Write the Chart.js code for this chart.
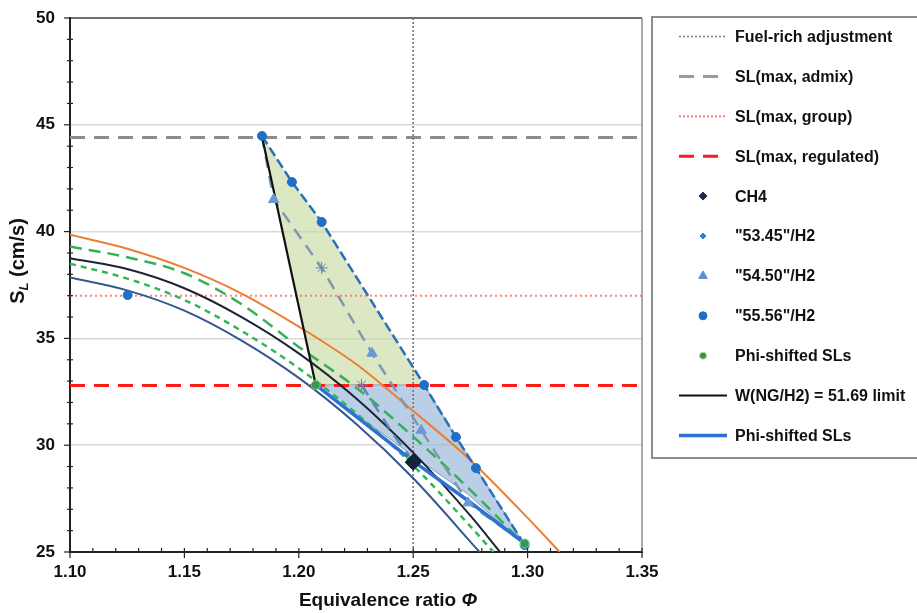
<!DOCTYPE html>
<html>
<head>
<meta charset="utf-8">
<script src="https://cdn.jsdelivr.net/npm/chart.js@4.4.0/dist/chart.umd.min.js"></script>
<style>
  html, body { margin: 0; padding: 0; background: #fff; }
</style>
</head>
<body>
<canvas id="myChart" width="917" height="613"></canvas>
<script>
// values: [phi, SL]
const orangeSL = [[1.10, 39.85], [1.125, 39.2], [1.15, 38.3], [1.175, 37.1], [1.20, 35.55], [1.225, 33.8], [1.25, 31.6], [1.275, 29.3], [1.30, 26.6], [1.314, 25.0]];
const greenLongSL = [[1.10, 39.3], [1.125, 38.8], [1.15, 38.05], [1.175, 36.6], [1.20, 34.6], [1.225, 32.7], [1.25, 30.4], [1.275, 27.9], [1.30, 25.2]];
const darkSL = [[1.10, 38.75], [1.125, 38.25], [1.15, 37.35], [1.175, 36.0], [1.20, 34.3], [1.225, 32.2], [1.25, 29.65], [1.275, 26.7], [1.288, 25.0]];
const greenShortSL = [[1.10, 38.5], [1.125, 37.8], [1.15, 36.8], [1.175, 35.35], [1.20, 33.6], [1.225, 31.5], [1.25, 29.05], [1.275, 26.2], [1.285, 25.0]];
const navySL = [[1.10, 37.85], [1.125, 37.25], [1.15, 36.3], [1.175, 34.9], [1.20, 33.15], [1.225, 31.0], [1.25, 28.45], [1.279, 25.0]];

const phiShiftedLine = [[1.2074, 32.82], [1.25, 29.25], [1.274, 27.4], [1.2987, 25.4]];
const wLimitLine = [[1.1839, 44.45], [1.2074, 32.82]];
const h2_5450Line = [[1.1839, 44.45], [1.189, 41.5], [1.21, 38.3], [1.232, 34.3], [1.2535, 30.7], [1.274, 27.3], [1.2987, 25.4]];
const h2_5345Line = [[1.2274, 32.82], [1.242, 30.4], [1.25, 29.25]];
const h2_5556Line = [[1.1839, 44.48], [1.197, 42.32], [1.21, 40.45], [1.2548, 32.82], [1.2687, 30.38], [1.2774, 28.93], [1.2987, 25.33]];

const greenArea = [[1.1839, 44.45], [1.2074, 32.82], [1.2548, 32.82], [1.21, 40.45], [1.197, 42.32], [1.1839, 44.45]];
const blueArea = [[1.2074, 32.82], [1.2548, 32.82], [1.2687, 30.38], [1.2774, 28.93], [1.2987, 25.33], [1.274, 27.7], [1.25, 29.5], [1.2074, 32.82]];

const ch4Pts = [[1.25, 29.2]];
const h2_5345Pts = [[1.21, 38.3], [1.2274, 32.82]];
const h2_5450Pts = [[1.189, 41.5], [1.232, 34.3], [1.2535, 30.7], [1.274, 27.3]];
const h2_5556Pts = [[1.1839, 44.48], [1.197, 42.32], [1.21, 40.45], [1.2548, 32.82], [1.2687, 30.38], [1.2774, 28.93], [1.2987, 25.33], [1.1252, 37.03]];
const phiShiftedPts = [[1.2074, 32.82], [1.249, 29.3], [1.2987, 25.4]];

const fuelRichPhi = 1.25;
const slAdmix = 44.4;
const slGroup = 37.0;
const slRegulated = 32.8;

const xRange = [1.10, 1.35];
const yRange = [25, 50];
const xTicks = [1.10, 1.15, 1.20, 1.25, 1.30, 1.35];

const FONT = "'Liberation Sans', Arial, sans-serif";
const pts = (arr) => arr.map((p) => ({ x: p[0], y: p[1] }));

const legendItems = [
  { label: 'Fuel-rich adjustment', line: '#808080', width: 1.5, dash: [2, 2] },
  { label: 'SL(max, admix)', line: '#9a9a9a', width: 3, dash: [15, 9] },
  { label: 'SL(max, group)', line: '#ff7c80', width: 2, dash: [2, 2] },
  { label: 'SL(max, regulated)', line: '#ff1a1a', width: 3, dash: [15, 9] },
  { label: 'CH4', point: 'rectRot', color: '#1c2c4a', r: 4 },
  { label: '"53.45"/H2', point: 'rectRot', color: '#2f80d0', r: 3 },
  { label: '"54.50"/H2', point: 'triangle', color: '#5b8fd6', r: 5 },
  { label: '"55.56"/H2', point: 'circle', color: '#1f6fc5', r: 4 },
  { label: 'Phi-shifted SLs', point: 'circle', color: '#2f8f5a', border: '#b9dc8c', r: 3.5 },
  { label: 'W(NG/H2) = 51.69 limit', line: '#111111', width: 2, dash: [] },
  { label: 'Phi-shifted SLs', line: '#2a72d4', width: 3.5, dash: [] },
];

const curve = (data, color, width, dash, order) => ({
  data: pts(data), showLine: true, borderColor: color, borderWidth: width, borderDash: dash,
  pointRadius: 0, tension: 0.4, cubicInterpolationMode: 'monotone', fill: false, order: order,
});
const straight = (data, color, width, dash, order) => ({
  data: pts(data), showLine: true, borderColor: color, borderWidth: width, borderDash: dash,
  pointRadius: 0, tension: 0, fill: false, order: order,
});
const markers = (data, style, color, radius, border, order) => ({
  data: pts(data), showLine: false, pointStyle: style, pointRadius: radius,
  pointBackgroundColor: color, pointBorderColor: border || color, pointBorderWidth: 1, order: order,
});

const extras = {
  id: 'extras',
  afterDraw(chart) {
    const ctx = chart.ctx;
    const ca = chart.chartArea;
    const xs = chart.scales.x;
    const ys = chart.scales.y;
    ctx.save();
    // right frame
    ctx.strokeStyle = '#8c8c8c';
    ctx.lineWidth = 1.5;
    ctx.beginPath();
    ctx.moveTo(ca.right, ca.top);
    ctx.lineTo(ca.right, ca.bottom);
    ctx.stroke();
    // minor / major ticks
    ctx.strokeStyle = '#222';
    ctx.lineWidth = 1.2;
    for (let i = 0; i <= 25; i++) {
      const px = xs.getPixelForValue(xRange[0] + i * 0.01);
      ctx.beginPath();
      if (i % 5 === 0) { ctx.moveTo(px, ca.bottom - 4); ctx.lineTo(px, ca.bottom + 6); }
      else { ctx.moveTo(px, ca.bottom - 4); ctx.lineTo(px, ca.bottom); }
      ctx.stroke();
    }
    for (let v = yRange[0]; v <= yRange[1]; v++) {
      const py = ys.getPixelForValue(v);
      ctx.beginPath();
      if (v % 5 === 0) { ctx.moveTo(ca.left - 6, py); ctx.lineTo(ca.left, py); }
      else { ctx.moveTo(ca.left - 3, py); ctx.lineTo(ca.left + 3, py); }
      ctx.stroke();
    }
    // axis titles
    ctx.fillStyle = '#111';
    ctx.textBaseline = 'middle';
    ctx.font = 'bold 19px ' + FONT;
    const xt1 = 'Equivalence ratio ';
    const w1 = ctx.measureText(xt1).width;
    ctx.font = 'italic bold 19px ' + FONT;
    const w2 = ctx.measureText('\u03A6').width;
    let sx = 388 - (w1 + w2) / 2;
    ctx.font = 'bold 19px ' + FONT;
    ctx.textAlign = 'left';
    ctx.fillText(xt1, sx, 601);
    ctx.font = 'italic bold 19px ' + FONT;
    ctx.fillText('\u03A6', sx + w1, 601);

    ctx.translate(18, 261);
    ctx.rotate(-Math.PI / 2);
    ctx.font = 'bold 20px ' + FONT;
    const wS = ctx.measureText('S').width;
    ctx.font = 'italic bold 13px ' + FONT;
    const wL = ctx.measureText('L').width;
    ctx.font = 'bold 20px ' + FONT;
    const wR = ctx.measureText(' (cm/s)').width;
    let tx = -(wS + wL + wR) / 2;
    ctx.fillText('S', tx, 0);
    ctx.font = 'italic bold 13px ' + FONT;
    ctx.fillText('L', tx + wS, 6);
    ctx.font = 'bold 20px ' + FONT;
    ctx.fillText(' (cm/s)', tx + wS + wL, 0);
    ctx.setTransform(1, 0, 0, 1, 0, 0);

    // legend box
    ctx.strokeStyle = '#8c8c8c';
    ctx.lineWidth = 2;
    ctx.setLineDash([]);
    ctx.strokeRect(652, 17, 280, 441);
    legendItems.forEach((it, i) => {
      const y = 36.5 + i * 39.9;
      if (it.line) {
        ctx.strokeStyle = it.line;
        ctx.lineWidth = it.width;
        ctx.setLineDash(it.dash);
        ctx.beginPath();
        ctx.moveTo(679, y);
        ctx.lineTo(727, y);
        ctx.stroke();
        ctx.setLineDash([]);
      } else {
        ctx.fillStyle = it.color;
        ctx.strokeStyle = it.border || it.color;
        ctx.lineWidth = 1;
        Chart.helpers.drawPoint(ctx, { pointStyle: it.point, radius: it.r, rotation: 0, borderWidth: 1 }, 703, y);
      }
      ctx.fillStyle = '#111';
      ctx.font = 'bold 16px ' + FONT;
      ctx.textAlign = 'left';
      ctx.textBaseline = 'middle';
      ctx.fillText(it.label, 735, y + 1);
    });
    ctx.restore();
  },
};

const ctx = document.getElementById('myChart').getContext('2d');
const myChart = new Chart(ctx, {
  type: 'scatter',
  data: {
    datasets: [
      // filled regions
      { data: pts(greenArea), showLine: true, fill: 'shape', backgroundColor: 'rgba(196,215,155,0.6)', borderWidth: 0, borderColor: 'rgba(0,0,0,0)', pointRadius: 0, tension: 0, order: 20 },
      { data: pts(blueArea), showLine: true, fill: 'shape', backgroundColor: 'rgba(149,179,215,0.65)', borderWidth: 1, borderColor: '#8a9aae', pointRadius: 0, tension: 0, order: 19 },
      // reference lines
      straight([[fuelRichPhi, yRange[0]], [fuelRichPhi, yRange[1]]], '#707070', 1.5, [2, 2], 15),
      straight([[xRange[0], slAdmix], [xRange[1], slAdmix]], '#8c8c8c', 3, [15, 9], 15),
      straight([[xRange[0], slGroup], [xRange[1], slGroup]], '#ff7c80', 2, [2, 3], 15),
      straight([[xRange[0], slRegulated], [xRange[1], slRegulated]], '#ff1a1a', 3, [15, 9], 15),
      // SL curves
      curve(orangeSL, '#ed7d31', 2, [], 10),
      curve(greenLongSL, '#35b05a', 2.5, [12, 7], 10),
      curve(darkSL, '#1c2434', 2, [], 10),
      curve(greenShortSL, '#33b556', 2.5, [6, 5], 10),
      curve(navySL, '#34578f', 2, [], 10),
      straight(h2_5450Line, '#7d98b0', 2.5, [12, 8], 9),
      straight(h2_5345Line, '#5b86c0', 2.5, [12, 8], 9),
      straight(h2_5556Line, '#2a70b8', 2.5, [10, 4], 9),
      straight(wLimitLine, '#111111', 2.2, [], 8),
      straight(phiShiftedLine, '#2a72d4', 3.5, [], 8),
      // markers
      markers(h2_5450Pts, 'triangle', '#6a9ad6', 6, '#6a9ad6', 2),
      markers(h2_5345Pts, 'star', '#5b86b8', 6, '#5b86b8', 2),
      markers(h2_5556Pts, 'circle', '#1f6fc5', 4.5, '#1f6fc5', 2),
      markers(phiShiftedPts, 'circle', '#2f9a5a', 4.5, '#8fd06a', 1),
      markers(ch4Pts, 'rectRot', '#15233d', 8, '#0c1526', 0),
    ],
  },
  options: {
    responsive: false,
    animation: false,
    layout: { padding: { top: 18, right: 275, left: 0, bottom: 0 } },
    plugins: { legend: { display: false }, tooltip: { enabled: false } },
    scales: {
      x: {
        type: 'linear', min: xRange[0], max: xRange[1],
        afterFit: (s) => { s.height = 61; s.paddingLeft = 0; s.paddingRight = 0; },
        afterBuildTicks: (s) => { s.ticks = xTicks.map((v) => ({ value: v })); },
        ticks: { callback: (v) => v.toFixed(2), color: '#111', padding: 10, font: { family: FONT, size: 17, weight: 'bold' } },
        grid: { drawOnChartArea: false, drawTicks: false },
        border: { color: '#222', width: 2 },
      },
      y: {
        type: 'linear', min: yRange[0], max: yRange[1],
        afterFit: (s) => { s.width = 70; s.paddingTop = 0; s.paddingBottom = 0; },
        ticks: { stepSize: 5, color: '#111', padding: 15, font: { family: FONT, size: 17, weight: 'bold' } },
        grid: {
          drawTicks: false,
          color: (c) => (c.tick && c.tick.value === 50 ? '#6f6f6f' : '#d9d9d9'),
          lineWidth: (c) => (c.tick && c.tick.value === 50 ? 2 : 1.5),
        },
        border: { color: '#222', width: 2 },
      },
    },
  },
  plugins: [extras],
});
</script>
</body>
</html>
